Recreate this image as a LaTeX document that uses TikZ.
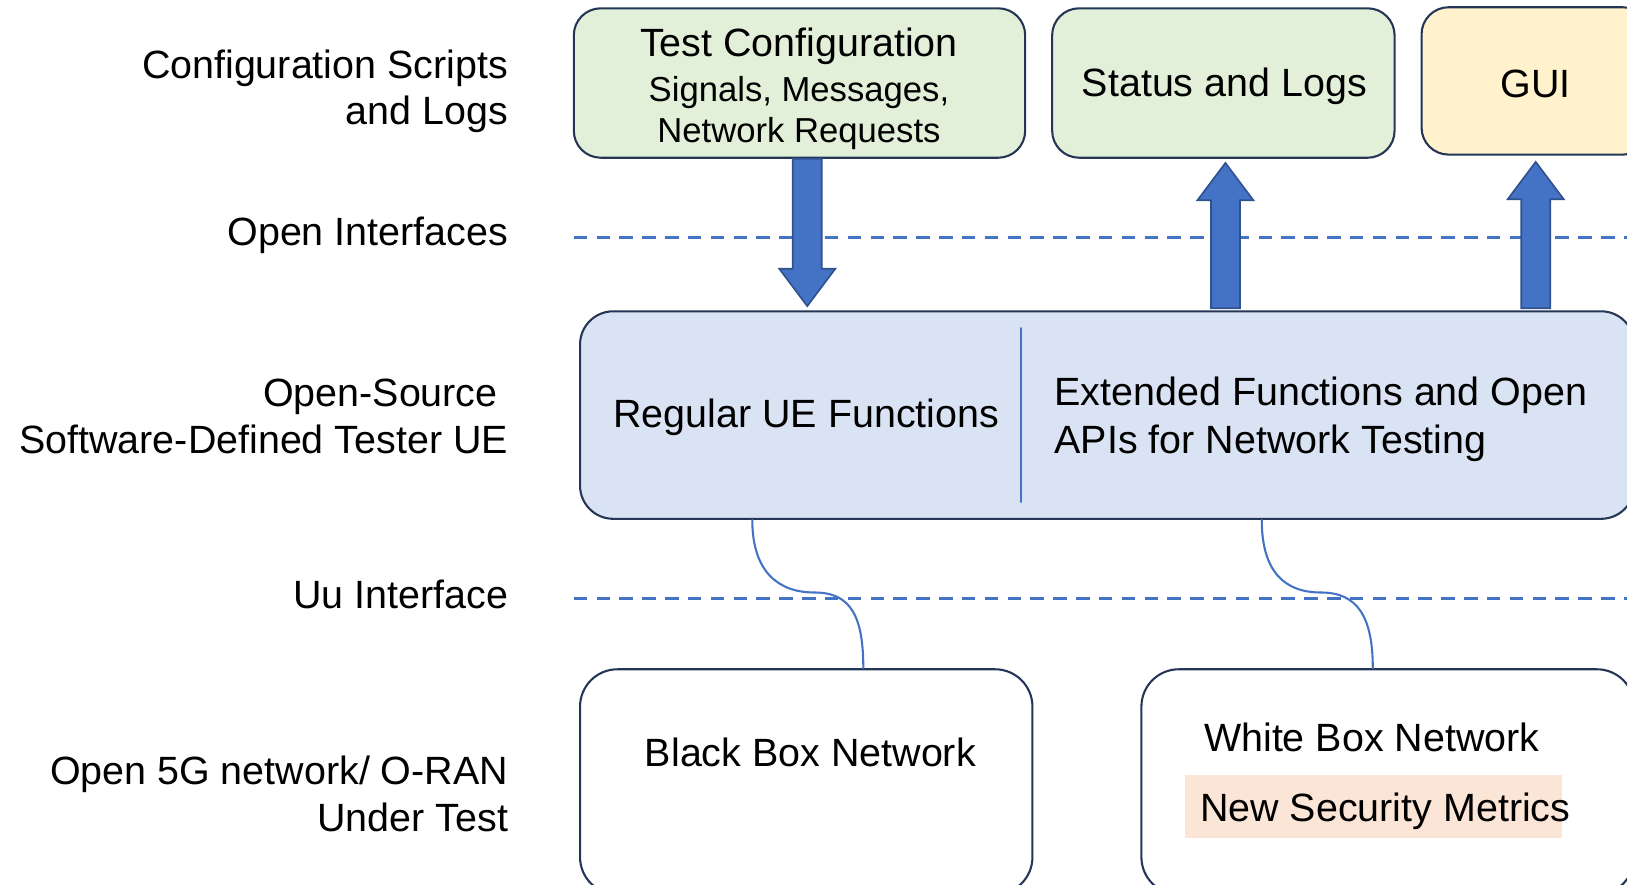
\documentclass[tikz,border=0pt]{standalone}
\usepackage{fontspec}
\setmainfont{Liberation Sans}
\usetikzlibrary{calc}
\usetikzlibrary{positioning}

\definecolor{cfggreen}{HTML}{E2F0D9}
\definecolor{guiyellow}{HTML}{FFF2CC}
\definecolor{uefill}{HTML}{DAE3F3}
\definecolor{boxline}{HTML}{243556}
\definecolor{ifblue}{HTML}{4472C4}
\definecolor{arrline}{HTML}{2F528F}
\definecolor{peach}{HTML}{FBE5D6}

\newcommand{\subfont}{\fontsize{16.7}{20}\selectfont}
\newcommand{\fatarrow}[2]{%
  \draw[fatarr] let \p1=(#1), \p2=(#2), \n1={(\y2-\y1)/abs(\y2-\y1)} in
    ({\x1-7pt},\y1) -- ({\x1-7pt},{\y2-\n1*18pt}) -- ({\x1-13.5pt},{\y2-\n1*18pt})
    -- (\x1,\y2) -- ({\x1+13.5pt},{\y2-\n1*18pt}) -- ({\x1+7pt},{\y2-\n1*18pt})
    -- ({\x1+7pt},\y1) -- cycle;}

\begin{document}
\begin{tikzpicture}[line cap=round,line join=round,x=0.5pt,y=-0.5pt,
  every node/.style={font=\fontsize{19}{22.5}\selectfont},
  box/.style={draw=boxline,line width=1pt,rounded corners=13pt,inner sep=0pt},
  lbl/.style={anchor=east,align=right,inner xsep=0pt},
  sepline/.style={ifblue,line width=1.5pt,dash pattern=on 6.5pt off 4.5pt,line cap=butt},
  fatarr/.style={fill=ifblue,draw=arrline,line width=0.8pt,line join=miter},
  wire/.style={ifblue,line width=1pt}]
\useasboundingbox (0,0) rectangle (1568,852);
\clip (0,0) rectangle (1568,852);
% layer names
\node[lbl] (cfgl) at (490,88) {Configuration Scripts\\and Logs};
\node[lbl] (oil) at (490,227) {Open Interfaces};
\node[lbl] (uel) at (490,401) {\mbox{Open-Source\kern5pt}\\Software-Defined Tester UE};
\node[lbl] (uul) at (490,573) {Uu Interface};
\node[lbl] (netl) at (490,765) {Open 5G network/ O-RAN\\Under Test};
% interface lines
\draw[sepline] (553,229) -- (1575,229);
\draw[sepline] (553,577) -- (1575,577);
% boxes
\node[box,fill=cfggreen,minimum width=217.5pt,minimum height=72pt] (cfg) at (770.5,80) {};
\node[box,fill=cfggreen,minimum width=165pt,minimum height=72pt] (stat) at (1179,80) {};
\node[box,fill=guiyellow,minimum width=110pt,minimum height=71pt] (gui) at (1480,78) {};
\node[box,fill=uefill,rounded corners=16pt,minimum width=508pt,minimum height=100pt] (ue) at (1067,400) {};
\node[box,rounded corners=18pt,minimum width=218pt,minimum height=108.5pt] (bb) at (777,753.5) {};
\node[box,rounded corners=18pt,minimum width=237.5pt,minimum height=108.5pt] (wb) at (1337.5,753.5) {};
\node[align=center] (cfgt) at (770,86)
  {Test Configuration\\[-1pt]{\subfont Signals, Messages,}\\[-2.5pt]{\subfont Network Requests}};
\node (statt) at (1180,83) {Status and Logs};
\node (guit) at (1480,81) {GUI};
\draw[ifblue,line width=0.6pt] ($(ue.north west)+(426,17)$) -- ($(ue.south west)+(426,-17)$);
\node (reg) at (777,402) {Regular UE Functions};
\node[anchor=west,align=left,inner xsep=0pt] (ext) at (1016,404) {Extended Functions and Open\\[0.5pt]APIs for Network Testing};
\node (bbt) at (781,725) {Black Box Network};
\node (wbt) at (1322,711) {White Box Network};
\node[fill=peach,minimum width=181.5pt,minimum height=30.5pt,inner sep=0pt] (hl) at (1323.5,777.5) {};
\node (sec) at (1335,782) {New Security Metrics};
% open interface arrows
\coordinate (a1s) at ($(cfg.south)+(7.5,0)$);
\coordinate (a1t) at ($(a1s |- ue.north)+(0,-4)$);
\coordinate (a2s) at ($(stat.south |- ue.north)+(2,-2)$);
\coordinate (a2t) at ($(stat.south)+(2,4)$);
\coordinate (a3s) at ($(gui.south |- ue.north)+(0,-2)$);
\coordinate (a3t) at ($(gui.south)+(0,6)$);
\fatarrow{a1s}{a1t}
\fatarrow{a2s}{a2t}
\fatarrow{a3s}{a3t}
% Uu links
\coordinate (w1s) at ($(ue.south west)+(167,0)$);
\coordinate (w1m) at (785,571);
\coordinate (w1e) at ($(bb.north west)+(274,0)$);
\coordinate (w2s) at ($(ue.south west)+(658,0)$);
\coordinate (w2m) at (1273,571);
\coordinate (w2e) at ($(wb.north west)+(224,0)$);
\draw[wire] (w1s) .. controls +(0,50) and +(-35,0) .. (w1m) .. controls +(35,0) and +(0,-50) .. (w1e);
\draw[wire] (w2s) .. controls +(0,50) and +(-35,0) .. (w2m) .. controls +(35,0) and +(0,-50) .. (w2e);
\end{tikzpicture}
\end{document}
